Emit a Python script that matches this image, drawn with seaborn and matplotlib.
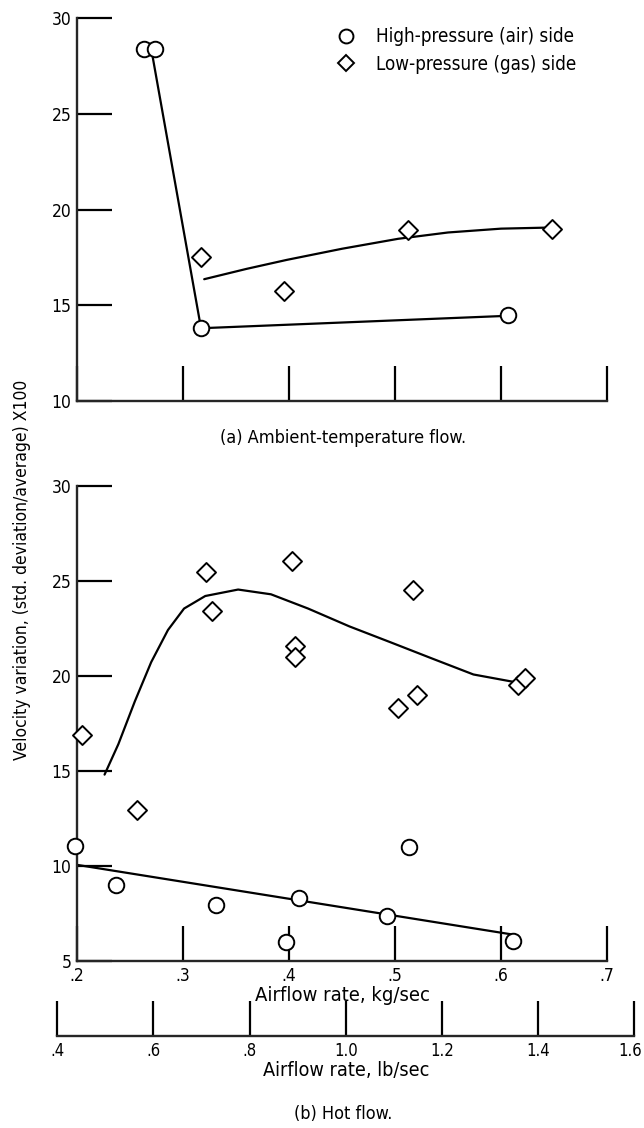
import numpy as np
import pandas as pd
import matplotlib
matplotlib.use("Agg")
import matplotlib.pyplot as plt
import matplotlib.transforms as mtransforms
from matplotlib.lines import Line2D
import seaborn as sns

# (a) ambient-temperature flow
a_hp_x = [0.263, 0.274, 0.317, 0.607]
a_hp_y = [28.4, 28.4, 13.8, 14.5]
a_hp_fit_x = [0.270, 0.317, 0.607]
a_hp_fit_y = [28.4, 13.8, 14.45]
a_lp_x = [0.317, 0.395, 0.512, 0.648]
a_lp_y = [17.5, 15.75, 18.95, 19.0]
a_lp_fit_x = [0.320, 0.360, 0.398, 0.450, 0.503, 0.550, 0.600, 0.648]
a_lp_fit_y = [16.36, 16.9, 17.37, 17.95, 18.47, 18.8, 19.0, 19.06]

# (b) hot flow
b_hp_x = [0.198, 0.237, 0.331, 0.397, 0.409, 0.492, 0.513, 0.611]
b_hp_y = [11.05, 9.02, 7.95, 6.02, 8.33, 7.35, 11.0, 6.03]
b_hp_fit_x = [0.200, 0.609]
b_hp_fit_y = [10.06, 6.41]
b_lp_x = [0.205, 0.257, 0.322, 0.327, 0.403, 0.406, 0.406, 0.517, 0.503, 0.521, 0.616, 0.623]
b_lp_y = [16.92, 12.93, 25.49, 23.40, 26.05, 21.56, 20.98, 24.55, 18.29, 18.98, 19.51, 19.89]
b_lp_fit_x = [0.226, 0.239, 0.2546, 0.270, 0.2858, 0.301, 0.321, 0.352, 0.383, 0.418,
              0.457, 0.496, 0.535, 0.574, 0.611]
b_lp_fit_y = [14.81, 16.41, 18.67, 20.73, 22.42, 23.55, 24.21, 24.55, 24.30, 23.55,
              22.61, 21.77, 20.92, 20.08, 19.70]

kg_ticks = [0.2, 0.3, 0.4, 0.5, 0.6, 0.7]
kg_labels = [".2", ".3", ".4", ".5", ".6", ".7"]
lb_ticks = [0.4, 0.6, 0.8, 1.0, 1.2, 1.4, 1.6]
lb_labels = [".4", ".6", ".8", "1.0", "1.2", "1.4", "1.6"]
LB_PER_KG = 2.2046

sns.set_style("white")
plt.rcParams["font.family"] = ["Liberation Sans Narrow", "DejaVu Sans"]
plt.rcParams["font.stretch"] = "condensed"
plt.rcParams["text.color"] = "black"
plt.rcParams["axes.labelcolor"] = "black"
plt.rcParams["axes.linewidth"] = 1.7

W, H = 644, 1128
fig = plt.figure(figsize=(W / 100, H / 100), dpi=100)

ax_l, ax_r = 77, 607
ax_a = fig.add_axes([ax_l / W, 1 - 401 / H, (ax_r - ax_l) / W, 383 / H])
ax_b = fig.add_axes([ax_l / W, 1 - 961 / H, (ax_r - ax_l) / W, 475 / H])

MS = 125
LW = 1.6
FS = 12.5


def style_axes(ax, ylo, yhi, yticks):
    ax.set_xlim(0.2, 0.7)
    ax.set_ylim(ylo, yhi)
    for s in ["top", "right"]:
        ax.spines[s].set_visible(False)
    ax.set_yticks(yticks)
    ax.set_yticklabels([str(t) for t in yticks])
    ax.set_xticks(kg_ticks)
    ax.tick_params(axis="both", direction="in", length=25, width=1.6,
                   labelsize=FS, pad=4, colors="black", bottom=True, left=True)
    ax.set_xlabel("")
    ax.set_ylabel("")


def draw(ax, hp_x, hp_y, hpf_x, hpf_y, lp_x, lp_y, lpf_x, lpf_y):
    sns.lineplot(x=hpf_x, y=hpf_y, sort=False, estimator=None, color="black",
                 linewidth=LW, ax=ax)
    sns.lineplot(x=lpf_x, y=lpf_y, sort=False, estimator=None, color="black",
                 linewidth=LW, ax=ax)
    sns.scatterplot(x=hp_x, y=hp_y, marker="o", s=MS, facecolor="white",
                    edgecolor="black", linewidth=1.4, ax=ax, clip_on=False, zorder=3)
    sns.scatterplot(x=lp_x, y=lp_y, marker="D", s=MS * 0.75, facecolor="white",
                    edgecolor="black", linewidth=1.4, ax=ax, clip_on=False, zorder=3)


draw(ax_a, a_hp_x, a_hp_y, a_hp_fit_x, a_hp_fit_y, a_lp_x, a_lp_y, a_lp_fit_x, a_lp_fit_y)
style_axes(ax_a, 10, 30, [10, 15, 20, 25, 30])
ax_a.set_xticklabels([""] * len(kg_ticks))

draw(ax_b, b_hp_x, b_hp_y, b_hp_fit_x, b_hp_fit_y, b_lp_x, b_lp_y, b_lp_fit_x, b_lp_fit_y)
style_axes(ax_b, 5, 30, [5, 10, 15, 20, 25, 30])
ax_b.set_xticklabels(kg_labels)
ax_b.set_xlabel("Airflow rate, kg/sec", fontsize=14.5, labelpad=1)

# lb/sec scale below, aligned with the kg/sec axis
px_per_kg = (ax_r - ax_l) / 0.5
lb_left = ax_l + (lb_ticks[0] / LB_PER_KG - 0.2) * px_per_kg
lb_right = ax_l + (lb_ticks[-1] / LB_PER_KG - 0.2) * px_per_kg
ax_lb = fig.add_axes([lb_left / W, 1 - 1036 / H, (lb_right - lb_left) / W, 30 / H])
ax_lb.set_xlim(lb_ticks[0], lb_ticks[-1])
ax_lb.set_yticks([])
for s in ["top", "left", "right"]:
    ax_lb.spines[s].set_visible(False)
ax_lb.set_xticks(lb_ticks)
ax_lb.set_xticklabels(lb_labels)
ax_lb.tick_params(axis="x", direction="in", length=25, width=1.6, labelsize=12, pad=4,
                  colors="black", bottom=True)
ax_lb.set_xlabel("Airflow rate, lb/sec", fontsize=14.2, labelpad=1)
ax_lb.patch.set_alpha(0)
# nudge the last label so it stays inside the figure edge
last = ax_lb.get_xticklabels()[-1]
last.set_transform(last.get_transform() +
                   mtransforms.ScaledTranslation(-4 / 100, 0, fig.dpi_scale_trans))

legend_handles = [
    Line2D([], [], linestyle="none", marker="o", markersize=10, markerfacecolor="white",
           markeredgecolor="black", markeredgewidth=1.4),
    Line2D([], [], linestyle="none", marker="D", markersize=8, markerfacecolor="white",
           markeredgecolor="black", markeredgewidth=1.4),
]
fig.legend(legend_handles, ["High-pressure (air) side", "Low-pressure (gas) side"],
           loc="upper left", bbox_to_anchor=(327 / W, 1 - 18 / H), frameon=False,
           fontsize=13.5, handlelength=1.0, handletextpad=1.1, labelspacing=0.45,
           borderpad=0, labelcolor="black")

fig.text(343 / W, 1 - 438 / H, "(a) Ambient-temperature flow.", ha="center",
         va="center", fontsize=13)
fig.text(343 / W, 1 - 1114 / H, "(b) Hot flow.", ha="center", va="center", fontsize=13)
fig.text(22 / W, 1 - 570 / H, "Velocity variation, (std. deviation/average) X100",
         rotation=90, ha="center", va="center", fontsize=FS)

fig.savefig("out.png", dpi=100, facecolor="white")
